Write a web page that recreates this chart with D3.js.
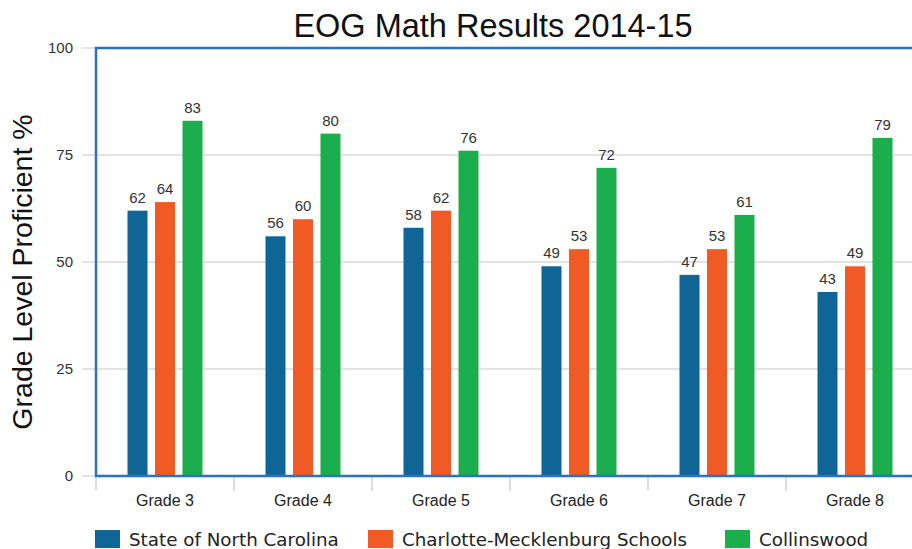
<!DOCTYPE html>
<html>
<head>
<meta charset="utf-8">
<script src="https://cdnjs.cloudflare.com/ajax/libs/d3/7.8.5/d3.min.js"></script>
<style>
	body { margin: 0; background: #fff; }
	svg { display: block; }
</style>
</head>
<body>
<svg id="chart" width="912" height="549"></svg>
<script>
var grades = ["Grade 3", "Grade 4", "Grade 5", "Grade 6", "Grade 7", "Grade 8"];
var seriesNames = ["State of North Carolina", "Charlotte-Mecklenburg Schools", "Collinswood"];
var stateNC = [62, 56, 58, 49, 47, 43];
var cms = [64, 60, 62, 53, 53, 49];
var collinswood = [83, 80, 76, 72, 61, 79];
var yTicks = [0, 25, 50, 75, 100];
var colors = ["#106597", "#f05a24", "#1aae4c"];

var allSeries = [stateNC, cms, collinswood];

var margin = {top: 48, left: 96},
	width = 828,
	height = 428;

var svg = d3.select("#chart");

var x = d3.scaleBand().domain(grades).range([0, width]).padding(0);
var y = d3.scaleLinear().domain([0, 100]).range([height, 0]);
var offset = d3.scalePoint().domain(seriesNames).range([-27.5, 27.5]);
var barW = 20;

var g = svg.append("g")
	.attr("transform", "translate(" + margin.left + "," + margin.top + ")");

// gridlines + left ticks
g.append("g")
	.selectAll("line")
	.data(yTicks)
	.enter().append("line")
	.attr("x1", -14)
	.attr("x2", width)
	.attr("y1", function(d) { return y(d); })
	.attr("y2", function(d) { return y(d); })
	.attr("stroke", "#c8c8c8")
	.attr("stroke-width", 1.2);

g.append("g")
	.selectAll("text")
	.data(yTicks)
	.enter().append("text")
	.attr("x", -23)
	.attr("y", function(d) { return y(d); })
	.attr("dy", "0.35em")
	.attr("text-anchor", "end")
	.attr("font-family", "Liberation Sans, Arial, sans-serif")
	.attr("font-size", 15)
	.attr("fill", "#333")
	.text(function(d) { return d; });

// bottom category separators
var seps = [0].concat(grades.map(function(d) { return x(d) + x.bandwidth(); }));
g.append("g")
	.selectAll("line")
	.data(seps)
	.enter().append("line")
	.attr("x1", function(d) { return d; })
	.attr("x2", function(d) { return d; })
	.attr("y1", height)
	.attr("y2", height + 15)
	.attr("stroke", "#c8c8c8")
	.attr("stroke-width", 1.2);

g.append("g")
	.selectAll("text")
	.data(grades)
	.enter().append("text")
	.attr("x", function(d) { return x(d) + x.bandwidth() / 2; })
	.attr("y", height + 24)
	.attr("dy", "0.35em")
	.attr("text-anchor", "middle")
	.attr("font-family", "Liberation Sans, Arial, sans-serif")
	.attr("font-size", 16)
	.attr("fill", "#222")
	.text(function(d) { return d; });

// bars
seriesNames.forEach(function(name, si) {
	var vals = allSeries[si];
	var sg = g.append("g");
	sg.selectAll("rect")
		.data(grades)
		.enter().append("rect")
		.attr("x", function(d) { return x(d) + x.bandwidth() / 2 + offset(name) - barW / 2; })
		.attr("y", function(d, i) { return y(vals[i]); })
		.attr("width", barW)
		.attr("height", function(d, i) { return height - y(vals[i]); })
		.attr("fill", colors[si]);
	sg.selectAll("text")
		.data(grades)
		.enter().append("text")
		.attr("x", function(d) { return x(d) + x.bandwidth() / 2 + offset(name); })
		.attr("y", function(d, i) { return y(vals[i]) - 8; })
		.attr("text-anchor", "middle")
		.attr("font-family", "Liberation Sans, Arial, sans-serif")
		.attr("font-size", 15)
		.attr("fill", "#333")
		.text(function(d, i) { return vals[i]; });
});

// plot border (blue)
g.append("path")
	.attr("d", "M" + (width + 4) + ",0H0V" + height + "H" + (width + 4))
	.attr("fill", "none")
	.attr("stroke", "#2c72c0")
	.attr("stroke-width", 2.5);

// title
svg.append("text")
	.attr("x", 493)
	.attr("y", 37)
	.attr("text-anchor", "middle")
	.attr("font-family", "Liberation Sans, Arial, sans-serif")
	.attr("font-size", 32.5)
	.attr("fill", "#111")
	.text("EOG Math Results 2014-15");

// y axis title
svg.append("text")
	.attr("transform", "translate(32,272) rotate(-90)")
	.attr("text-anchor", "middle")
	.attr("font-family", "Liberation Sans, Arial, sans-serif")
	.attr("font-size", 28.5)
	.attr("fill", "#111")
	.text("Grade Level Proficient %");

// legend
var legendX = [95, 368, 725];
var legend = svg.append("g").selectAll("g")
	.data(seriesNames)
	.enter().append("g")
	.attr("transform", function(d, i) { return "translate(" + legendX[i] + ",530)"; });
legend.append("rect")
	.attr("width", 25)
	.attr("height", 18)
	.attr("fill", function(d, i) { return colors[i]; });
legend.append("text")
	.attr("x", 34)
	.attr("y", 16)
	.attr("font-family", "DejaVu Sans, sans-serif")
	.attr("font-size", 18.3)
	.attr("fill", "#222")
	.text(function(d) { return d; });
</script>
</body>
</html>
